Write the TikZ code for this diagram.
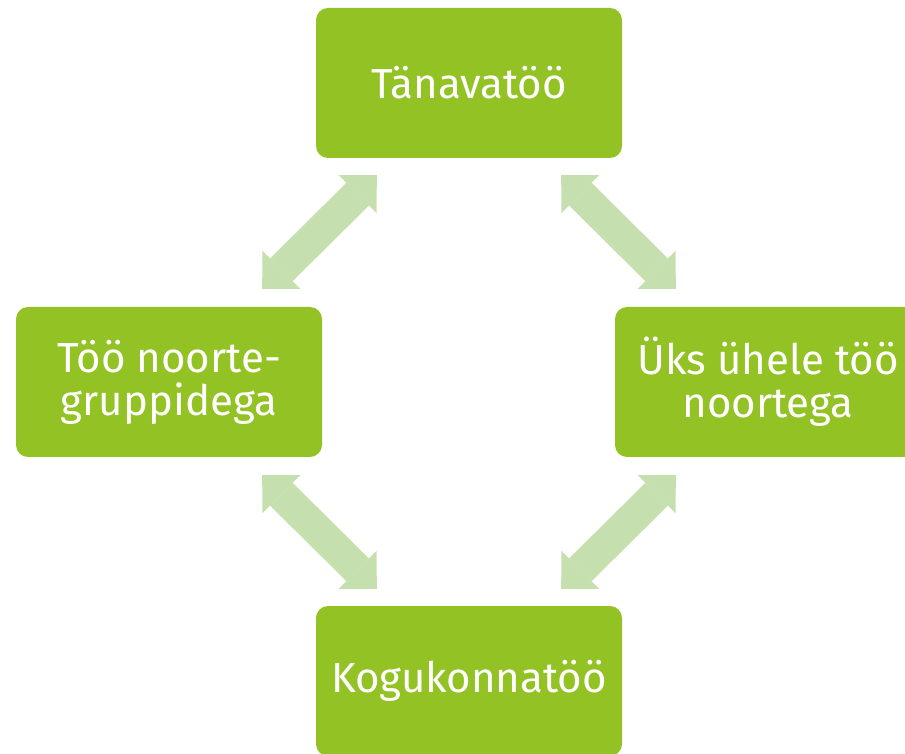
\documentclass[tikz,border=0pt]{standalone}
\usepackage{fontspec}
\setmainfont{Fira Sans}
\usepackage{tikz}
\usetikzlibrary{arrows.meta}
\definecolor{boxgreen}{HTML}{93C225}
\definecolor{arrowgreen}{HTML}{C6DFAE}

\begin{document}
\begin{tikzpicture}[x=1pt,y=1pt,
    tegevus/.style={fill=boxgreen,rounded corners=12pt,minimum width=306pt,minimum height=150pt,
      text=white,align=center,inner sep=0pt,font=\fontsize{42}{43}\selectfont},
    vahe/.style={draw=arrowgreen,line width=32pt,
      {Triangle[length=27pt,width=54pt,line width=0pt]}-{Triangle[length=27pt,width=54pt,line width=0pt]}}]
          \useasboundingbox (0,0) rectangle (905,753);
          \clip (0,0) rectangle (905,753);
          % Tanavatoo
          \node[tegevus] (tanav) at (469,670) {Tänavatöö};
          % Too noortegruppidega
          \node[tegevus] (grupp) at (169,371) {Töö noorte-\\gruppidega};
          % Uks uhele too
          \node[tegevus] (yksyhele) at (768,371) {Üks ühele töö\\noortega};
          % Kogukonnatoo
          \node[tegevus] (kogukond) at (469,72) {Kogukonnatöö};
          % arrow between Tanavatoo and groups
          \draw[vahe] ([xshift=61pt,yshift=-17pt]tanav.south west) -- ([xshift=-60pt,yshift=18pt]grupp.north east);
          % arrow between Tanavatoo and one to one
          \draw[vahe] ([xshift=-61pt,yshift=-17pt]tanav.south east) -- ([xshift=61pt,yshift=18pt]yksyhele.north west);
          % arrow between groups and Kogukonnatoo
          \draw[vahe] ([xshift=-60pt,yshift=-18pt]grupp.south east) -- ([xshift=61pt,yshift=17pt]kogukond.north west);
          % arrow between one to one and Kogukonnatoo
          \draw[vahe] ([xshift=61pt,yshift=-18pt]yksyhele.south west) -- ([xshift=-61pt,yshift=17pt]kogukond.north east);
        \end{tikzpicture}
\end{document}
